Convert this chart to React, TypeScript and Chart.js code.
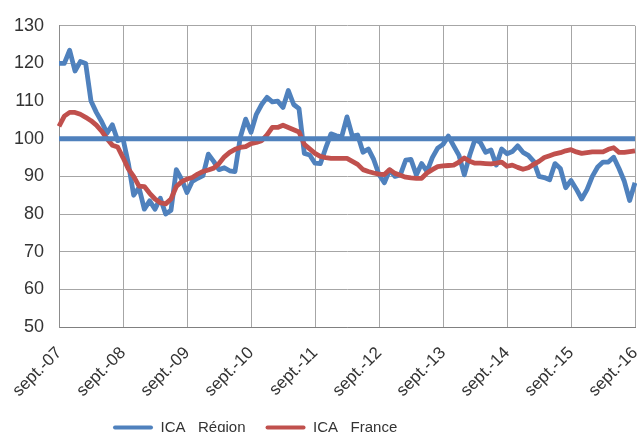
import React, { useEffect, useRef } from "react";
import { Chart, registerables } from "chart.js";

Chart.register(...registerables);

// ---- Data ----
const MONTH_NAMES = ["janv.", "févr.", "mars", "avr.", "mai", "juin", "juil.", "août", "sept.", "oct.", "nov.", "déc."];
const START_YEAR = 2007;
const START_MONTH = 8; // septembre
const LABEL_EVERY = 12;

const ICA_REGION = [
  120, 120, 123.5, 118, 120.5, 120, 110, 107, 104.5, 101.5, 103.7, 99.5,
  100, 93.5, 85, 87, 81.3, 83.5, 81.3, 84.2, 80, 81, 91.8, 89.2,
  85.7, 88.7, 89.5, 90.2, 95.9, 94, 91.8, 92.3, 91.5, 91.3, 100.4, 105.2,
  101.7, 106.5, 109.1, 111, 109.8, 110, 108.3, 112.8, 109.1, 108, 96.1, 95.7,
  93.5, 93.4, 97.5, 101.3, 100.8, 100.5, 105.8, 100.7, 101, 96.4, 97.3, 94.5,
  90.5, 88.3, 91.7, 90, 90.4, 94.3, 94.5, 90.4, 93.4, 91.3, 95, 97.5,
  98.5, 100.7, 98.1, 95.6, 90.4, 95.6, 99.8, 99, 96.4, 97, 93, 97.3,
  96, 96.6, 98.1, 96.4, 95.6, 94, 90, 89.7, 89.1, 93.4, 92.1, 87,
  88.9, 86.6, 84, 86.5, 90, 92.5, 93.8, 93.8, 95.1, 92.1, 88.7, 83.6,
  88.3,
];

const ICA_FRANCE = [
  103.3, 106, 107, 107, 106.5, 105.7, 104.8, 103.6, 102, 100, 98.3, 97.8,
  95, 92, 90, 87.4, 87.3, 85.5, 84, 83, 82.7, 84, 87.3, 88.6,
  89.3, 89.7, 90.6, 91.3, 91.7, 92.2, 93.4, 95.2, 96.4, 97.2, 97.7, 97.9,
  98.7, 99, 99.5, 101, 103, 103, 103.6, 103, 102.4, 101.8, 98.5, 97.3,
  96.1, 95.3, 95, 94.8, 94.8, 94.8, 94.8, 94, 93.2, 91.8, 91.3, 90.9,
  90.6, 90.5, 91.8, 90.8, 90.3, 89.8, 89.6, 89.5, 89.5, 90.9, 91.8, 92.6,
  92.8, 92.9, 93, 93.8, 94.9, 94, 93.5, 93.5, 93.4, 93.3, 93.5, 93.8,
  92.7, 93, 92.4, 91.9, 92.3, 93.2, 94, 95, 95.5, 96, 96.3, 96.8,
  97.1, 96.5, 96.1, 96.3, 96.5, 96.5, 96.5, 97.2, 97.6, 96.4, 96.4, 96.6,
  96.8,
];

const BASE_VALUE = 100;

const CATEGORIES = ICA_REGION.map((_, i) => {
  const abs = START_MONTH + i;
  const year = START_YEAR + Math.floor(abs / 12);
  return `${MONTH_NAMES[abs % 12]}-${String(year % 100).padStart(2, "0")}`;
});

const SERIES_NAMES = ["ICA   Région", "ICA   France"];

const Y_MIN = 50;
const Y_MAX = 130;
const Y_STEP = 10;

// ---- Style ----
const BLUE = "#4F81BD";
const RED = "#C0504D";
const GRID = "#a6a6a6";
const TEXT = "#333333";
const FONT = "'Liberation Sans', Arial, sans-serif";

const W = 637;
const H = 432;
const PLOT_BOTTOM = 327;
const LEGEND_X = 113;
const LEGEND_PAD = 20;
const LEGEND_TOP = 400;
const LINE_W = 4.8;

export default function App() {
  const ref = useRef<HTMLCanvasElement | null>(null);

  useEffect(() => {
    document.body.style.margin = "0";
    const canvas = ref.current;
    if (!canvas) return;

    const legendPlacer = {
      id: "legendPlacer",
      afterLayout(chart: any) {
        const lg = chart.legend;
        if (lg) {
          lg.left = LEGEND_X - LEGEND_PAD;
          lg.top = LEGEND_TOP;
        }
        const xs = chart.scales.x;
        if (xs) xs.bottom = H;
      },
    };

    const chart = new Chart(canvas, {
      type: "line",
      data: {
        labels: CATEGORIES,
        datasets: [
          {
            label: SERIES_NAMES[0],
            data: ICA_REGION,
            borderColor: BLUE,
            backgroundColor: BLUE,
            borderWidth: LINE_W,
            pointRadius: 0,
            tension: 0,
            borderJoinStyle: "round",
            order: 3,
          },
          {
            label: SERIES_NAMES[1],
            data: ICA_FRANCE,
            borderColor: RED,
            backgroundColor: RED,
            borderWidth: LINE_W,
            pointRadius: 0,
            tension: 0,
            borderJoinStyle: "round",
            order: 2,
          },
          {
            label: "Base 100",
            data: CATEGORIES.map(() => BASE_VALUE),
            borderColor: BLUE,
            backgroundColor: BLUE,
            borderWidth: LINE_W,
            pointRadius: 0,
            order: 1,
          },
        ],
      },
      options: {
        animation: false,
        responsive: false,
        devicePixelRatio: 1,
        layout: { padding: { top: 18, right: 2, bottom: 0, left: 0 } },
        scales: {
          x: {
            type: "category",
            offset: false,
            grid: {
              drawTicks: false,
              color: (ctx: any) => (ctx.index % LABEL_EVERY === 0 ? GRID : "rgba(0,0,0,0)"),
              lineWidth: 1,
            },
            border: { color: "#808080", width: 1 },
            ticks: {
              autoSkip: false,
              maxRotation: 45,
              minRotation: 45,
              padding: 16,
              color: TEXT,
              font: { family: FONT, size: 17 },
              callback: (_v: any, i: number) => (i % LABEL_EVERY === 0 ? CATEGORIES[i] : ""),
            },
            afterFit: (scale: any) => {
              const lg = scale.chart.legend;
              const lgH = lg ? lg.height : 0;
              scale.height = H - lgH - PLOT_BOTTOM;
              scale.paddingLeft = 0;
              scale.paddingRight = 0;
            },
          },
          y: {
            min: Y_MIN,
            max: Y_MAX,
            grid: { drawTicks: false, color: GRID, lineWidth: 1 },
            border: { color: "#8c8c8c", width: 1 },
            ticks: {
              stepSize: Y_STEP,
              padding: 15,
              color: TEXT,
              font: { family: FONT, size: 18 },
            },
            afterFit: (scale: any) => {
              scale.width = 59;
            },
          },
        },
        plugins: {
          tooltip: { enabled: false },
          title: { display: false },
          legend: {
            display: true,
            position: "bottom",
            align: "start",
            labels: {
              boxWidth: 40,
              boxHeight: 4,
              padding: LEGEND_PAD,
              color: TEXT,
              font: { family: FONT, size: 15 },
              generateLabels: (ch: any) =>
                ch.data.datasets.slice(0, 2).map((ds: any, i: number) => ({
                  text: ds.label,
                  fillStyle: ds.borderColor,
                  strokeStyle: ds.borderColor,
                  lineWidth: 0,
                  borderRadius: 2,
                  hidden: false,
                  datasetIndex: i,
                  fontColor: TEXT,
                })),
            },
          },
        },
      },
      plugins: [legendPlacer],
    } as any);

    return () => chart.destroy();
  }, []);

  return (
    <div style={{ width: W, height: H, overflow: "hidden", background: "#fff" }}>
      <canvas ref={ref} width={W} height={H} style={{ display: "block", width: W, height: H }} />
    </div>
  );
}
